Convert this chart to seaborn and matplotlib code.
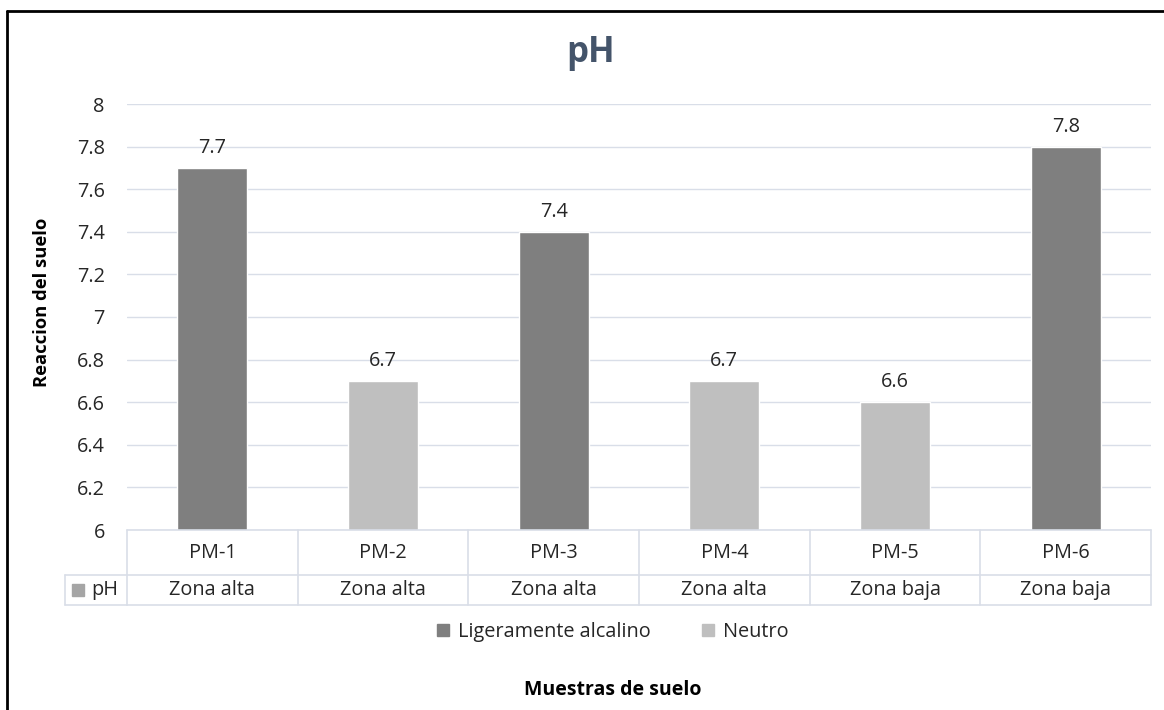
import matplotlib
matplotlib.use("Agg")
import matplotlib.pyplot as plt
import matplotlib.transforms as mtransforms
from matplotlib.lines import Line2D
import seaborn as sns
import pandas as pd

samples = ["PM-1", "PM-2", "PM-3", "PM-4", "PM-5", "PM-6"]
ph_values = [7.7, 6.7, 7.4, 6.7, 6.6, 7.8]
classes = ["Ligeramente alcalino", "Neutro", "Ligeramente alcalino", "Neutro", "Neutro", "Ligeramente alcalino"]
zones = ["Zona alta", "Zona alta", "Zona alta", "Zona alta", "Zona baja", "Zona baja"]
class_order = ["Ligeramente alcalino", "Neutro"]
y_ticks = [6, 6.2, 6.4, 6.6, 6.8, 7, 7.2, 7.4, 7.6, 7.8, 8]

sns.set_style("white")
plt.rcParams["font.family"] = ["Open Sans", "DejaVu Sans"]

FS = 14.3
TXT = "#262626"
W, H = 1164, 710
fig = plt.figure(figsize=(W / 100, H / 100), dpi=100)
ax = fig.add_axes([127 / W, 1 - 530 / H, (1151 - 127) / W, (530 - 104) / H])

df = pd.DataFrame({"sample": samples, "ph": ph_values, "cls": classes})
palette = {"Ligeramente alcalino": "#7F7F7F", "Neutro": "#BFBFBF"}
sns.barplot(data=df, x="sample", y="ph", hue="cls", hue_order=class_order,
            palette=palette, dodge=False, width=0.41, ax=ax, legend=False,
            saturation=1, order=samples)

ax.set_ylim(6, 8)
ax.set_xlim(-0.5, 5.5)
ax.set_yticks(y_ticks)
ax.set_yticklabels([f"{t:g}" for t in y_ticks], fontsize=FS, color=TXT)
ax.tick_params(axis="y", length=0, pad=16)
ax.set_xticks([])
ax.set_xlabel("")
ax.set_ylabel("")
ax.grid(axis="y", color="#D9DEE8", linewidth=1)
ax.set_axisbelow(True)
for s in ax.spines.values():
    s.set_visible(False)

for cont in ax.containers:
    ax.bar_label(cont, fmt="%.1f", padding=7, fontsize=FS, color=TXT)

# data table
tcol = "#D9DEE8"
blend = mtransforms.blended_transform_factory(ax.transData, ax.transAxes)
r1 = -(575 - 530) / (530 - 104)
r2 = -(605 - 530) / (530 - 104)
for i in range(7):
    ax.add_line(Line2D([i - 0.5, i - 0.5], [0, r2], transform=blend, color=tcol, lw=1.2, clip_on=False))
for yy in [0, r1, r2]:
    ax.add_line(Line2D([-0.5, 5.5], [yy, yy], transform=blend, color=tcol, lw=1.2, clip_on=False))
for i, (s, z) in enumerate(zip(samples, zones)):
    ax.text(i, r1 / 2, s, transform=blend, ha="center", va="center", fontsize=FS, color=TXT)
    ax.text(i, (r1 + r2) / 2, z, transform=blend, ha="center", va="center", fontsize=FS, color=TXT)
# header cell for series
x0 = 65 / W
xa = 127 / W
y1 = 1 - 575 / H
y2 = 1 - 605 / H
fig.add_artist(Line2D([x0, xa], [y1, y1], transform=fig.transFigure, color=tcol, lw=1.2))
fig.add_artist(Line2D([x0, xa], [y2, y2], transform=fig.transFigure, color=tcol, lw=1.2))
fig.add_artist(Line2D([x0, x0], [y1, y2], transform=fig.transFigure, color=tcol, lw=1.2))
fig.add_artist(Line2D([78 / W], [1 - 590 / H], transform=fig.transFigure, marker="s",
                      markersize=8, color="#A5A5A5", lw=0))
fig.text(91 / W, 1 - 590 / H, "pH", ha="left", va="center", fontsize=FS, color=TXT)

# title and axis labels
fig.text(591 / W, 1 - 53 / H, "pH", ha="center", va="center", fontsize=25,
         fontweight="bold", color="#44546A")
fig.text(42 / W, 1 - 302 / H, "Reaccion del suelo", rotation=90, ha="center", va="center",
         fontsize=13.2, fontweight="bold", color="#000000")
fig.text(613 / W, 1 - 690 / H, "Muestras de suelo", ha="center", va="center",
         fontsize=14, fontweight="bold", color="#000000")

handles = [Line2D([], [], marker="s", color=palette[c], lw=0, markersize=8) for c in class_order]
fig.legend(handles, class_order, loc="center", bbox_to_anchor=(611 / W, 1 - 632 / H),
           ncol=2, frameon=False, fontsize=FS, handletextpad=0.25, columnspacing=2.4,
           handlelength=1.0)

# outer border (left and top)
fig.add_artist(Line2D([7 / W, 7 / W], [0, 1 - 11 / H], transform=fig.transFigure, color="black", lw=2))
fig.add_artist(Line2D([7 / W, 1], [1 - 11 / H, 1 - 11 / H], transform=fig.transFigure, color="black", lw=2))

fig.savefig("out.png", dpi=100)
